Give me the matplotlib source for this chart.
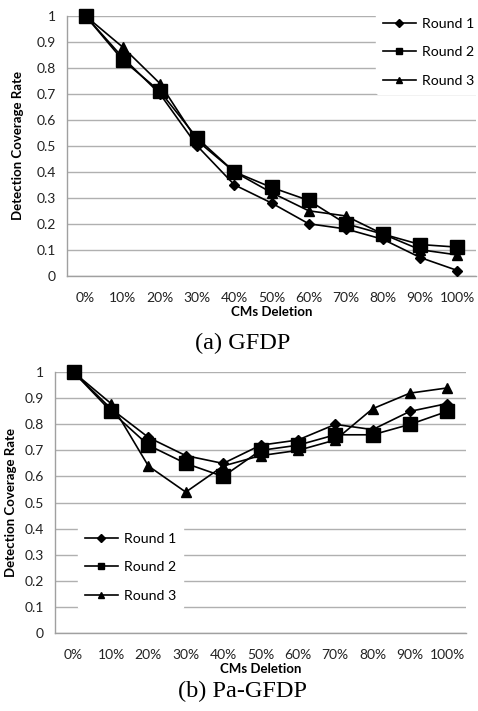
import matplotlib.pyplot as plt

plt.rcParams['font.family'] = ['Lato', 'DejaVu Sans']

deletion = ['0%', '10%', '20%', '30%', '40%', '50%', '60%', '70%', '80%', '90%', '100%']
yticks = [0, 0.1, 0.2, 0.3, 0.4, 0.5, 0.6, 0.7, 0.8, 0.9, 1]
ytick_labels = ['0', '0.1', '0.2', '0.3', '0.4', '0.5', '0.6', '0.7', '0.8', '0.9', '1']

# (a) GFDP
gfdp_r1 = [1, 0.84, 0.70, 0.50, 0.35, 0.28, 0.20, 0.18, 0.14, 0.07, 0.02]
gfdp_r2 = [1, 0.83, 0.71, 0.53, 0.40, 0.34, 0.29, 0.20, 0.16, 0.12, 0.11]
gfdp_r3 = [1, 0.88, 0.74, 0.52, 0.40, 0.32, 0.25, 0.23, 0.16, 0.10, 0.08]

# (b) Pa-GFDP
pa_r1 = [1, 0.86, 0.75, 0.68, 0.65, 0.72, 0.74, 0.80, 0.78, 0.85, 0.88]
pa_r2 = [1, 0.85, 0.72, 0.65, 0.60, 0.70, 0.72, 0.76, 0.76, 0.80, 0.85]
pa_r3 = [1, 0.88, 0.64, 0.54, 0.64, 0.68, 0.70, 0.74, 0.86, 0.92, 0.94]

labels = ['Round 1', 'Round 2', 'Round 3']
markers = ['D', 's', '^']
msizes = [5.5, 9.5, 6.5]
leg_msizes = [4, 5, 4.5]

W, H = 478, 711
fig = plt.figure(figsize=(W / 100, H / 100), dpi=100)


def make_axes(left, top, right, bottom):
    return fig.add_axes([left / W, 1 - bottom / H, (right - left) / W, (bottom - top) / H])


def draw(ax, series, ylab_x, leg_xy):
    x = range(len(deletion))
    for vals, lab, m, ms in zip(series, labels, markers, msizes):
        ax.plot(x, vals, color='black', lw=1.2, marker=m, ms=ms,
                label=lab, clip_on=False, zorder=3)
    ax.set_xlim(-0.5, len(deletion) - 0.5)
    ax.set_ylim(0, 1)
    ax.set_yticks(yticks)
    ax.set_yticklabels(ytick_labels)
    ax.set_xticks(list(x))
    ax.set_xticklabels(deletion)
    ax.tick_params(axis='both', length=0, labelsize=10, colors='#222222')
    ax.tick_params(axis='x', pad=12)
    ax.tick_params(axis='y', pad=8)
    ax.grid(axis='y', color='#b0b0b0', lw=1.0)
    ax.set_axisbelow(True)
    for s in ['top', 'right']:
        ax.spines[s].set_visible(False)
    for s in ['left', 'bottom']:
        ax.spines[s].set_color('#a0a0a0')
        ax.spines[s].set_linewidth(1.0)
    ax.set_ylabel('Detection Coverage Rate', fontsize=9.5, fontweight='bold')
    ax.yaxis.set_label_coords(ylab_x, 0.5)
    ax.set_xlabel('CMs Deletion', fontsize=9.5, fontweight='bold', labelpad=1)
    leg = ax.legend(loc='upper left', bbox_to_anchor=leg_xy, frameon=True,
                    fontsize=10.2, handlelength=2.3, handletextpad=0.45,
                    labelspacing=1.15, borderpad=0.5, borderaxespad=0)
    for h, s in zip(leg.legend_handles, leg_msizes):
        h.set_markersize(s)
    leg.get_frame().set_facecolor('white')
    leg.get_frame().set_edgecolor('white')
    leg.get_frame().set_alpha(1)
    leg.set_zorder(5)


ax1 = make_axes(67, 16, 476, 275.7)
draw(ax1, [gfdp_r1, gfdp_r2, gfdp_r3], (24 - 67) / 409, ((376 - 67) / 409, (275.7 - 11) / 259.7))

ax2 = make_axes(55, 372.3, 466, 632.7)
draw(ax2, [pa_r1, pa_r2, pa_r3], (17 - 55) / 411, ((78 - 55) / 411, (632.7 - 526) / 260.4))

fig.text(243 / W, 1 - 343 / H, '(a) GFDP', family='Liberation Serif', fontsize=17.5,
         ha='center', va='center')
fig.text(243 / W, 1 - 691 / H, '(b) Pa-GFDP', family='Liberation Serif', fontsize=17.5,
         ha='center', va='center')

fig.savefig('out.png', dpi=100)
